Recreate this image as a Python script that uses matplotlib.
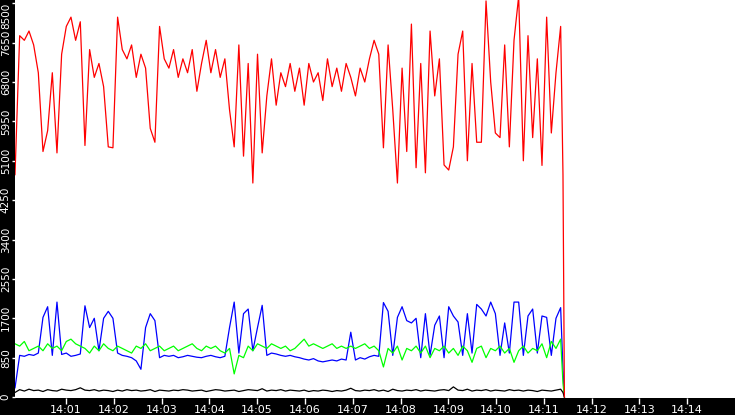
import numpy as np
import matplotlib
matplotlib.use("Agg")
import matplotlib.pyplot as plt

# samples roughly every 5.85 s, starting at 13:59:56 (values in minutes after 14:00)
T0 = -0.068
STEP = 0.0976

red = [4800, 7800, 7700, 7900, 7600, 7000, 5300, 5750, 7000, 5270,
       7400, 8000, 8200, 7700, 8100, 5430, 7500, 6900, 7200, 6700,
       5400, 5380, 8200, 7500, 7300, 7600, 6900, 7400, 7100, 5800,
       5500, 8000, 7300, 7100, 7500, 6900, 7300, 7000, 7500, 6600,
       7200, 7700, 7000, 7500, 6900, 7300, 6200, 5400, 7600, 5200,
       7200, 4620, 7400, 5270, 6500, 7300, 6300, 7000, 6700, 7200,
       6600, 7100, 6300, 7200, 6800, 7000, 6400, 7300, 6700, 7100,
       6600, 7200, 6900, 6500, 7100, 6800, 7300, 7700, 7400, 5380,
       7600, 6200, 4620, 7100, 5300, 8050, 4950, 7200, 4840, 7900,
       6500, 7300, 5010, 4900, 5400, 7400, 7900, 5100, 7200, 5500,
       5500, 8550, 6800, 5700, 5600, 7600, 5400, 7700, 8650, 5100,
       7800, 5600, 7300, 5000, 8200, 5700, 7000, 8000, 4800, 0]

blue = [200, 900, 880, 920, 900, 950, 1720, 1950, 900, 2050,
        920, 950, 880, 900, 930, 1970, 1500, 1700, 1000, 1700,
        1850, 1700, 950, 900, 880, 850, 780, 600, 1500, 1800,
        1650, 850, 900, 880, 900, 850, 870, 900, 880, 860,
        850, 880, 900, 870, 850, 880, 1500, 2050, 950, 1800,
        1900, 1000, 1500, 1980, 900, 950, 930, 900, 880, 900,
        870, 850, 820, 800, 830, 780, 760, 780, 800, 780,
        820, 800, 1400, 800, 850, 820, 870, 900, 880, 2040,
        1850, 900, 1720, 1950, 1650, 1600, 1700, 850, 1800, 900,
        1550, 1750, 850, 1950, 1750, 1620, 900, 1800, 950, 2000,
        1900, 1750, 2050, 1800, 900, 1600, 950, 2050, 2050, 900,
        1750, 1900, 950, 1750, 1720, 900, 1700, 1930, 600, 0]

green = [1150, 1100, 1200, 1000, 1050, 1100, 1000, 1150, 1050, 1100,
         1000, 1200, 1250, 1150, 1100, 1050, 950, 1100, 1000, 1150,
         1050, 1000, 1100, 1050, 1000, 950, 1100, 1050, 1150, 1000,
         1050, 1100, 1000, 1050, 1100, 1000, 1050, 1100, 1150, 1050,
         1000, 1100, 1050, 1100, 1000, 950, 1050, 500, 900, 850,
         1100, 1000, 1150, 1100, 1050, 1150, 1100, 1050, 1100, 1000,
         1050, 1150, 1250, 1100, 1150, 1100, 1050, 1100, 1150, 1050,
         1100, 1050, 1100, 1050, 1100, 1150, 1050, 1100, 1000, 650,
         1050, 950, 1100, 800, 1050, 1000, 1100, 950, 1100, 850,
         1050, 1000, 1100, 950, 1050, 900, 1100, 1000, 750, 1050,
         1100, 850, 1050, 1000, 1100, 950, 1050, 750, 1000, 1100,
         950, 1050, 1000, 1150, 850, 1200, 1050, 1250, 300, 0]

black = [100, 160, 130, 170, 140, 150, 120, 160, 140, 130,
         170, 150, 140, 160, 200, 150, 140, 160, 130, 150,
         140, 120, 150, 130, 160, 140, 150, 130, 140, 160,
         120, 150, 140, 130, 150, 140, 160, 150, 130, 140,
         150, 120, 140, 160, 150, 130, 140, 150, 120, 140,
         160, 150, 140, 180, 130, 150, 140, 160, 130, 150,
         140, 130, 150, 120, 140, 130, 150, 140, 120, 140,
         130, 150, 190, 140, 130, 150, 140, 160, 130, 150,
         120, 170, 140, 130, 150, 140, 160, 130, 150, 140,
         130, 150, 160, 140, 220, 150, 140, 170, 130, 150,
         140, 160, 130, 150, 140, 130, 160, 140, 150, 130,
         150, 140, 120, 150, 140, 130, 150, 170, 100, 0]

xtick_min = list(range(1, 15))
xtick_labels = [f"14:{m:02d}" for m in xtick_min]
ytick_vals = list(range(0, 8501, 850))

n = len(red) - 2
t = [T0 + STEP * i for i in range(n)] + [11.40, 11.43]

fig = plt.figure(figsize=(7.35, 4.15), dpi=100, facecolor="black")
ax = fig.add_axes([15 / 735, 17 / 415, 720 / 735, 398 / 415])
ax.set_facecolor("white")

ax.plot(t, blue, color="#0000ff", lw=0.9)
ax.plot(t, green, color="#00ff00", lw=0.9)
ax.plot(t, black, color="black", lw=0.9)
ax.plot(t, red, color="#ff0000", lw=0.9)

ax.set_xlim(T0, 15.0)
ax.set_ylim(-20, 8570)
ax.set_xticks(xtick_min)
ax.set_xticklabels(xtick_labels)
ax.set_yticks(ytick_vals)
ax.set_yticklabels([str(v) for v in ytick_vals], rotation=90, va="center")
ax.get_yticklabels()[-1].set_va("top")
ax.tick_params(axis="x", colors="white", labelsize=8, length=4, width=1, pad=1)
ax.tick_params(axis="y", colors="white", labelsize=7.5, length=2, width=1, pad=1)
for s in ax.spines.values():
    s.set_visible(False)

fig.savefig("out.png", dpi=100, facecolor="black")
